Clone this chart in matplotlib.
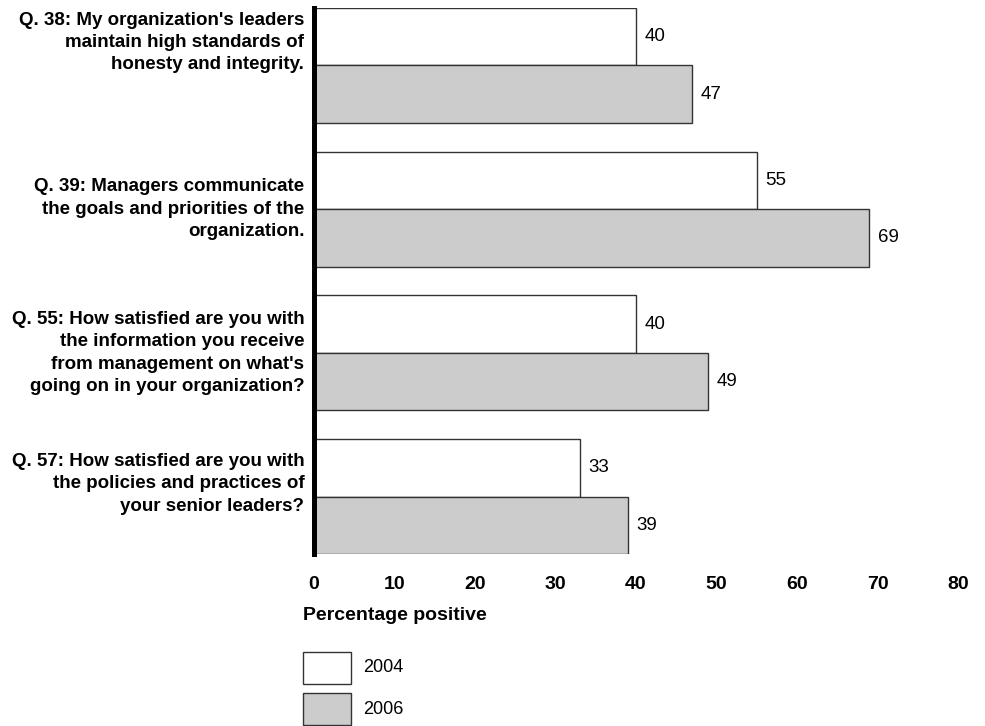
import matplotlib
matplotlib.use('Agg')
import matplotlib.pyplot as plt
from matplotlib.patches import Rectangle
import numpy as np

plt.rcParams['font.family'] = ['Liberation Sans', 'DejaVu Sans']

# Survey items and percentage positive by year
questions = [
    "Q. 38: My organization's leaders\nmaintain high standards of\nhonesty and integrity.",
    "Q. 39: Managers communicate\nthe goals and priorities of the\norganization.",
    "Q. 55: How satisfied are you with\nthe information you receive\nfrom management on what's\ngoing on in your organization?",
    "Q. 57: How satisfied are you with\nthe policies and practices of\nyour senior leaders?",
]
years = ['2004', '2006']
pct_2004 = [40, 55, 40, 33]
pct_2006 = [47, 69, 49, 39]
x_ticks = [0, 10, 20, 30, 40, 50, 60, 70, 80]

# where each question label sits vertically (in bar-group units)
label_y = [-0.16, 1.0, 2.0, 2.91]

FILL_2004 = 'white'
FILL_2006 = '#cccccc'
EDGE = '#333333'
NARROW = ['Liberation Sans Narrow', 'Liberation Sans']

fig = plt.figure(figsize=(9.85, 7.26), dpi=100)
ax = fig.add_axes([314 / 985, 1 - 554 / 726, (958 - 314) / 985, (554 - 8) / 726])

pos = np.arange(len(questions))
h = 0.4
ax.barh(pos - h / 2, pct_2004, height=h, color=FILL_2004, edgecolor=EDGE, linewidth=1)
ax.barh(pos + h / 2, pct_2006, height=h, color=FILL_2006, edgecolor=EDGE, linewidth=1)

for p, v in zip(pos, pct_2004):
    ax.annotate(str(v), (v, p - h / 2), xytext=(6, 0), textcoords='offset points',
                va='center', ha='left', fontsize=13.5)
for p, v in zip(pos, pct_2006):
    ax.annotate(str(v), (v, p + h / 2), xytext=(6, 0), textcoords='offset points',
                va='center', ha='left', fontsize=13.5)

for y, q in zip(label_y, questions):
    ax.text(-1.2, y, q, ha='right', va='center', fontsize=13.5, fontweight='bold',
            linespacing=1.42)

ax.set_xlim(0, 80)
ax.set_ylim(len(questions) - 1 + h, -h)
ax.set_xticks(x_ticks)
ax.set_xticklabels([str(t) for t in x_ticks], fontweight='bold', fontsize=14,
                   family=NARROW)
ax.set_yticks([])
ax.tick_params(axis='x', length=0, pad=16)

for side in ['top', 'right', 'bottom']:
    ax.spines[side].set_visible(False)
ax.spines['left'].set_linewidth(3.6)
ax.spines['left'].set_color('black')

fig.text(303 / 985, 1 - 615 / 726, 'Percentage positive', ha='left', va='center',
         fontsize=14, fontweight='bold', family=NARROW)

# legend boxes drawn by hand below the axis title
W, H = 985, 726
for i, (yr, fill) in enumerate(zip(years, [FILL_2004, FILL_2006])):
    top = 652 + i * 41
    fig.add_artist(Rectangle((303 / W, 1 - (top + 32) / H), 48 / W, 32 / H,
                             transform=fig.transFigure, facecolor=fill,
                             edgecolor=EDGE, linewidth=1))
    fig.text(363 / W, 1 - (top + 16) / H, yr, ha='left', va='center', fontsize=13)

fig.savefig('out.png', dpi=100)
plt.close(fig)
